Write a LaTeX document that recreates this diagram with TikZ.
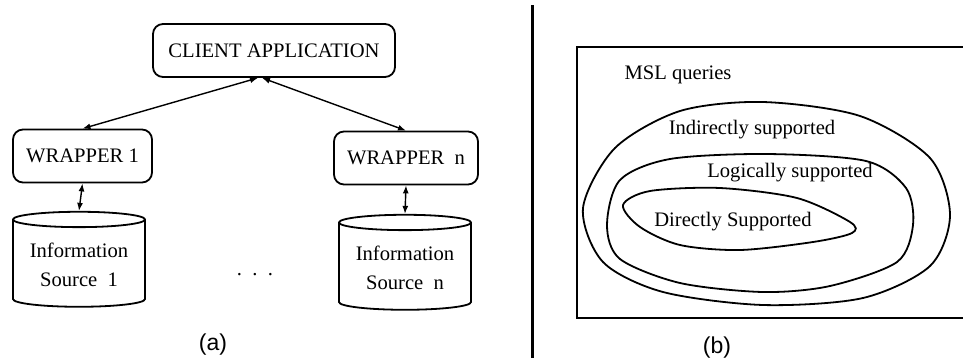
\documentclass[tikz,border=0pt]{standalone}
\usepackage{fontspec}
\setmainfont{Liberation Serif}
\newfontfamily\captionfont{Liberation Sans}
\usetikzlibrary{shapes.geometric,arrows.meta}
\begin{document}
\begin{tikzpicture}
[x=0.5pt,y=-0.5pt,
  boxDecorate/.style={shape=rectangle,rounded corners=5pt,draw,line width=0.9pt,
    minimum height=26.5pt,inner sep=2pt,font=\fontsize{10.3}{14.5}\selectfont},
  sourceDecorate/.style={shape=cylinder,shape border rotate=90,aspect=0.15,draw,
    line width=0.9pt,minimum width=66pt,minimum height=47.5pt,inner sep=1pt,
    align=center,font=\fontsize{10.3}{14.5}\selectfont},
  lineDecorate/.style={{Latex[length=4pt,width=3pt]}-{Latex[length=4pt,width=3pt]},line width=0.7pt},
  setDecorate/.style={line width=0.9pt},
  textDecorate/.style={font=\fontsize{10.3}{12}\selectfont},
  captionDecorate/.style={font=\captionfont\fontsize{11.5}{13}\selectfont}]
\useasboundingbox (0,0) rectangle (963,360);
%% (a) boxes and sources
\foreach \nodename/\x/\y/\w/\txt in {
  client/274/50.5/121pt/CLIENT APPLICATION,
  wrap1/82.5/156/69.5pt/WRAPPER 1,
  wrapn/406/158/72pt/WRAPPER\ \ n}
{
  \node (\nodename) at (\x,\y) [boxDecorate,minimum width=\w] {\txt};
}
\foreach \nodename/\x/\y/\txt in {
  src1/79/264.5/{Information\\Source\ \ 1},
  srcn/405/267.5/{Information\\Source\ \ n}}
{
  \node (\nodename) at (\x,\y) [sourceDecorate] {\txt};
}
\node (dots) at (255,275) [textDecorate] {.\ \ .\ \ .};
\node (capa) at (213,345) [captionDecorate] {(a)};
%% (a) connectors
\path
  ([xshift=-8pt]client.south) edge[lineDecorate] (wrap1.north)
  ([xshift=-6pt]client.south) edge[lineDecorate] (wrapn.north)
  (wrap1.south) edge[lineDecorate] (src1.north)
  (wrapn.south) edge[lineDecorate] (srcn.north);
%% separator
\draw[line width=1.5pt] (532,5) -- (532,358);
%% (b) query classes
\draw[setDecorate] (577,47) rectangle (970,318);
% indirectly supported
\draw[setDecorate] plot[smooth cycle] coordinates {
  (583,208) (603,262) (663,292) (763,305) (863,298) (930,266) (950,215)
  (930,158) (860,116) (763,102) (680,111) (615,148)};
% logically supported
\draw[setDecorate] plot[smooth cycle] coordinates {
  (607,225) (620,180) (670,159) (767,154) (866,161) (906,188) (913,225)
  (897,262) (830,286) (763,292) (680,283) (620,259)};
% directly supported
\draw[setDecorate] plot[smooth cycle] coordinates {
  (623,205) (650,191) (720,188) (797,198) (850,222)
  (852,233) (813,242) (740,250) (680,245) (640,227)};
\foreach \nodename/\x/\y/\txt in {
  msl/678/75/MSL queries,
  indirect/752/130/Indirectly supported,
  logical/790/173/Logically supported,
  direct/733/222/Directly Supported}
{
  \node (\nodename) at (\x,\y) [textDecorate] {\txt};
}
\node (capb) at (717,348) [captionDecorate] {(b)};
\end{tikzpicture}
\end{document}
